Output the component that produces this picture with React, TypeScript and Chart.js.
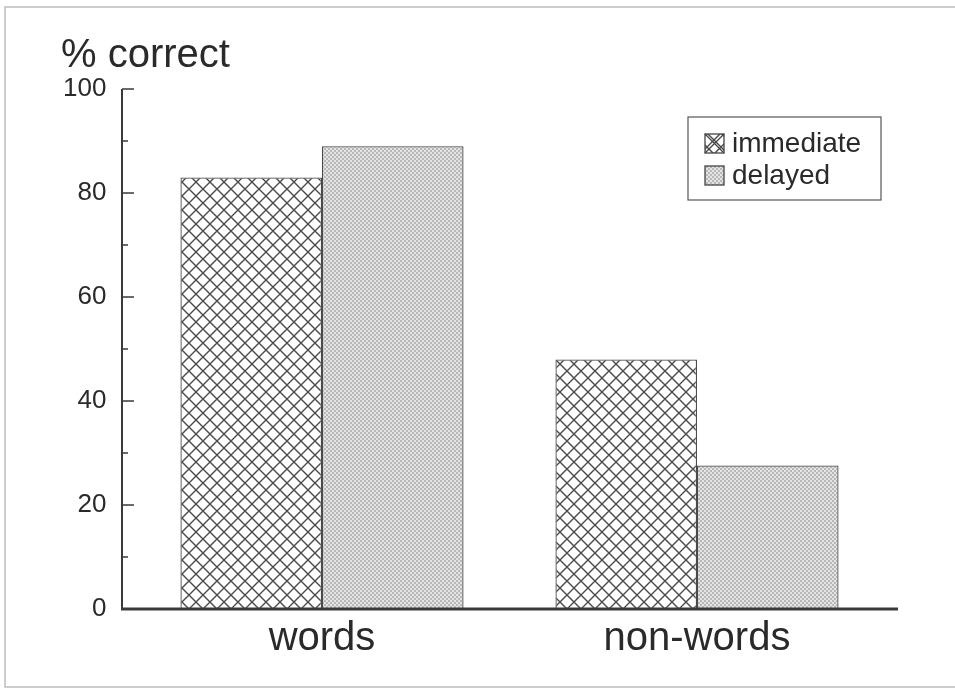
import React, { useEffect, useRef } from "react";
import { Chart, registerables } from "chart.js";

Chart.register(...registerables);

const categories = ["words", "non-words"];
const seriesNames = ["immediate", "delayed"];
const immediateValues = [83, 48];
const delayedValues = [89, 27.6];
const yTicks = [0, 20, 40, 60, 80, 100];
const yMinorTicks = [10, 30, 50, 70, 90];
const titleText = "% correct";

const FONT = "'Liberation Sans', Arial, Helvetica, sans-serif";
const AXIS_X = 122;
const AXIS_RIGHT = 898;

function makeCrosshatch(): CanvasPattern | string {
  const s = 14;
  const c = document.createElement("canvas");
  c.width = s;
  c.height = s;
  const g = c.getContext("2d");
  if (!g) return "#fff";
  g.fillStyle = "#ffffff";
  g.fillRect(0, 0, s, s);
  g.strokeStyle = "#4a4a4a";
  g.lineWidth = 1.4;
  g.beginPath();
  g.moveTo(-1, -1);
  g.lineTo(s + 1, s + 1);
  g.moveTo(s + 1, -1);
  g.lineTo(-1, s + 1);
  g.stroke();
  return g.createPattern(c, "repeat") || "#fff";
}

function makeStipple(): CanvasPattern | string {
  const s = 4;
  const c = document.createElement("canvas");
  c.width = s;
  c.height = s;
  const g = c.getContext("2d");
  if (!g) return "#ccc";
  g.fillStyle = "#e4e4e4";
  g.fillRect(0, 0, s, s);
  g.fillStyle = "#b8b8b8";
  g.fillRect(0, 0, 2, 2);
  g.fillRect(2, 2, 2, 2);
  return g.createPattern(c, "repeat") || "#ccc";
}

export default function App() {
  const ref = useRef<HTMLCanvasElement | null>(null);

  useEffect(() => {
    if (!ref.current) return;
    const hatch = makeCrosshatch();
    const stipple = makeStipple();
    const fills = [hatch, stipple];

    const decor = {
      id: "decor",
      afterDraw(chart: any) {
        const ctx = chart.ctx as CanvasRenderingContext2D;
        const ys = chart.scales.y;
        const y0 = ys.getPixelForValue(0);
        const y100 = ys.getPixelForValue(100);
        ctx.save();
        // frame
        ctx.strokeStyle = "#bdbdbd";
        ctx.lineWidth = 1.5;
        ctx.beginPath();
        ctx.moveTo(955, 7);
        ctx.lineTo(5, 7);
        ctx.lineTo(5, 687);
        ctx.lineTo(955, 687);
        ctx.stroke();
        // axes
        ctx.strokeStyle = "#3a3a3a";
        ctx.lineWidth = 2;
        ctx.beginPath();
        ctx.moveTo(AXIS_X, y100);
        ctx.lineTo(AXIS_X, y0);
        ctx.stroke();
        ctx.lineWidth = 3;
        ctx.beginPath();
        ctx.moveTo(AXIS_X - 1, y0);
        ctx.lineTo(AXIS_RIGHT, y0);
        ctx.stroke();
        // inward ticks
        ctx.lineWidth = 1.5;
        ctx.beginPath();
        for (const v of yTicks) {
          if (v === 0) continue;
          const y = ys.getPixelForValue(v);
          ctx.moveTo(AXIS_X, y);
          ctx.lineTo(AXIS_X + 12, y);
        }
        for (const v of yMinorTicks) {
          const y = ys.getPixelForValue(v);
          ctx.moveTo(AXIS_X, y);
          ctx.lineTo(AXIS_X + 6, y);
        }
        ctx.stroke();
        // title
        ctx.fillStyle = "#2a2a2a";
        ctx.font = `40px ${FONT}`;
        ctx.textAlign = "left";
        ctx.textBaseline = "alphabetic";
        ctx.fillText(titleText, 61, 67);
        // legend
        const lx = 688, ly = 117, lw = 193, lh = 83;
        ctx.fillStyle = "#ffffff";
        ctx.fillRect(lx, ly, lw, lh);
        ctx.strokeStyle = "#555";
        ctx.lineWidth = 1.2;
        ctx.strokeRect(lx, ly, lw, lh);
        ctx.font = `28px ${FONT}`;
        ctx.textBaseline = "middle";
        seriesNames.forEach((name, i) => {
          const cy = 143 + i * 32;
          const bs = 19;
          const bx = 705, by = cy - 9;
          ctx.fillStyle = fills[i] as any;
          ctx.fillRect(bx, by, bs, bs);
          ctx.strokeStyle = "#444";
          ctx.lineWidth = 1.3;
          if (i === 0) {
            ctx.beginPath();
            ctx.moveTo(bx, by);
            ctx.lineTo(bx + bs, by + bs);
            ctx.moveTo(bx + bs, by);
            ctx.lineTo(bx, by + bs);
            ctx.stroke();
          }
          ctx.strokeRect(bx, by, bs, bs);
          ctx.fillStyle = "#2a2a2a";
          ctx.fillText(name, 732, cy + 1);
        });
        ctx.restore();
      },
    };

    const chart = new Chart(ref.current, {
      type: "bar",
      data: {
        labels: categories,
        datasets: [
          {
            label: seriesNames[0],
            data: immediateValues,
            backgroundColor: hatch as any,
            borderColor: "#4a4a4a",
            borderWidth: 1.3,
            categoryPercentage: 0.755,
            barPercentage: 1.0,
          },
          {
            label: seriesNames[1],
            data: delayedValues,
            backgroundColor: stipple as any,
            borderColor: "#4a4a4a",
            borderWidth: 1.3,
            categoryPercentage: 0.755,
            barPercentage: 1.0,
          },
        ],
      },
      options: {
        animation: false,
        responsive: false,
        maintainAspectRatio: false,
        layout: { padding: { top: 89, right: 70.5, left: 0, bottom: 0 } },
        plugins: {
          legend: { display: false },
          title: { display: false },
          tooltip: { enabled: false },
        },
        scales: {
          x: {
            grid: { display: false, drawTicks: false },
            border: { display: false },
            ticks: {
              color: "#2a2a2a",
              font: { family: FONT, size: 40 },
              padding: 6,
            },
            afterFit(scale: any) {
              scale.height = 82;
            },
          },
          y: {
            min: 0,
            max: 100,
            grid: { display: false, drawTicks: false },
            border: { display: false },
            ticks: {
              stepSize: 20,
              color: "#2a2a2a",
              font: { family: FONT, size: 26 },
              padding: 28,
            },
            afterFit(scale: any) {
              scale.width = 134.5;
            },
          },
        },
      },
      plugins: [decor],
    });
    return () => chart.destroy();
  }, []);

  return (
    <div style={{ position: "fixed", left: 0, top: 0, width: 955, height: 691, background: "#fff" }}>
      <canvas ref={ref} width={955} height={691} style={{ width: 955, height: 691, display: "block" }} />
    </div>
  );
}
